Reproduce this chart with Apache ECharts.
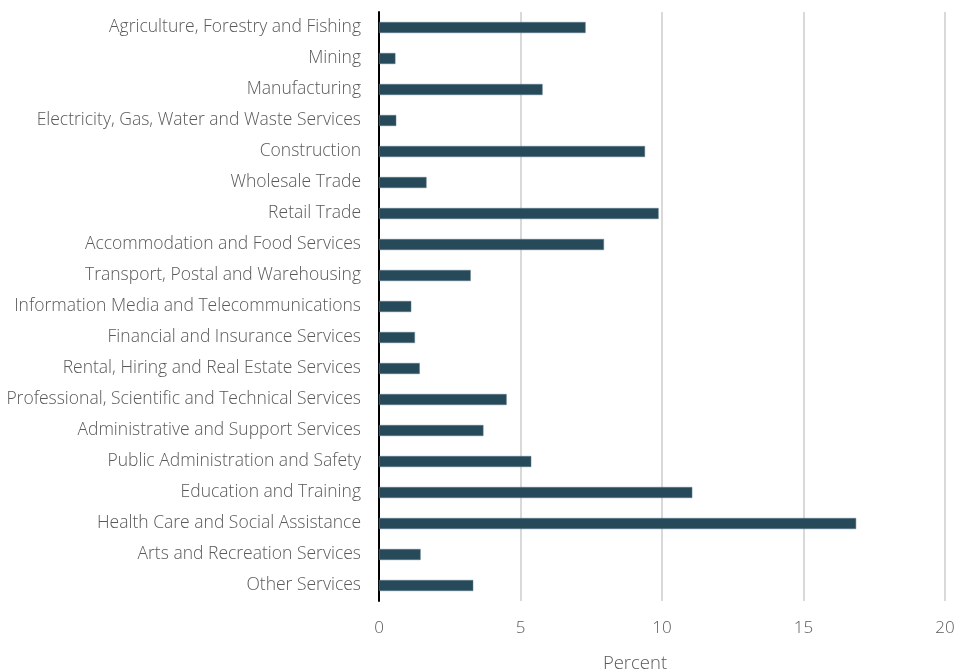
<!DOCTYPE html>
<html>
<head>
<meta charset="utf-8">
<script src="https://cdn.jsdelivr.net/npm/echarts@6/dist/echarts.min.js"></script>
<style>
  html, body { margin: 0; padding: 0; background: #ffffff; }
  #chart { width: 957px; height: 671px; }
</style>
</head>
<body>
<div id="chart"></div>
<script>
// Industries, listed top to bottom
const industries = [
  'Agriculture, Forestry and Fishing',
  'Mining',
  'Manufacturing',
  'Electricity, Gas, Water and Waste Services',
  'Construction',
  'Wholesale Trade',
  'Retail Trade',
  'Accommodation and Food Services',
  'Transport, Postal and Warehousing',
  'Information Media and Telecommunications',
  'Financial and Insurance Services',
  'Rental, Hiring and Real Estate Services',
  'Professional, Scientific and Technical Services',
  'Administrative and Support Services',
  'Public Administration and Safety',
  'Education and Training',
  'Health Care and Social Assistance',
  'Arts and Recreation Services',
  'Other Services'
];

// Share of employment, percent
const shares = [
  7.30, 0.58, 5.78, 0.61, 9.40, 1.68, 9.88, 7.95, 3.24, 1.14,
  1.27, 1.44, 4.51, 3.69, 5.38, 11.07, 16.86, 1.47, 3.33
];

// Value axis ticks
const xTicks = [0, 5, 10, 15, 20];

const labelFont = '"Open Sans", Lato, sans-serif';
const textGrey = '#595959';

const chart = echarts.init(document.getElementById('chart'), null, { renderer: 'canvas' });

chart.setOption({
  animation: false,
  backgroundColor: '#ffffff',
  grid: { left: 379, right: 12, top: 12, bottom: 70, containLabel: false, outerBoundsMode: 'none' },
  xAxis: {
    type: 'value',
    min: xTicks[0],
    max: xTicks[xTicks.length - 1],
    interval: xTicks[1] - xTicks[0],
    name: 'Percent',
    nameLocation: 'middle',
    nameGap: 53,
    nameTextStyle: {
      fontFamily: labelFont, fontSize: 18.5, fontWeight: 300, color: textGrey,
      padding: [0, 54, 0, 0]
    },
    axisLine: { show: false },
    axisTick: { show: false },
    axisLabel: {
      margin: 19, fontFamily: labelFont, fontSize: 17, fontWeight: 300, color: textGrey
    },
    splitLine: { show: true, lineStyle: { color: '#d9d9d9', width: 2 } }
  },
  yAxis: {
    type: 'category',
    inverse: true,
    data: industries,
    axisLine: { show: true, onZero: false, lineStyle: { color: '#000000', width: 2 } },
    axisTick: { show: false },
    axisLabel: {
      margin: 18, fontFamily: labelFont, fontSize: 17.5, fontWeight: 300, color: textGrey
    },
    splitLine: { show: false }
  },
  series: [{
    type: 'bar',
    data: shares,
    barWidth: 11,
    itemStyle: { color: '#264a5a', borderColor: '#5d7a88', borderWidth: 0.5 }
  }]
});
</script>
</body>
</html>
